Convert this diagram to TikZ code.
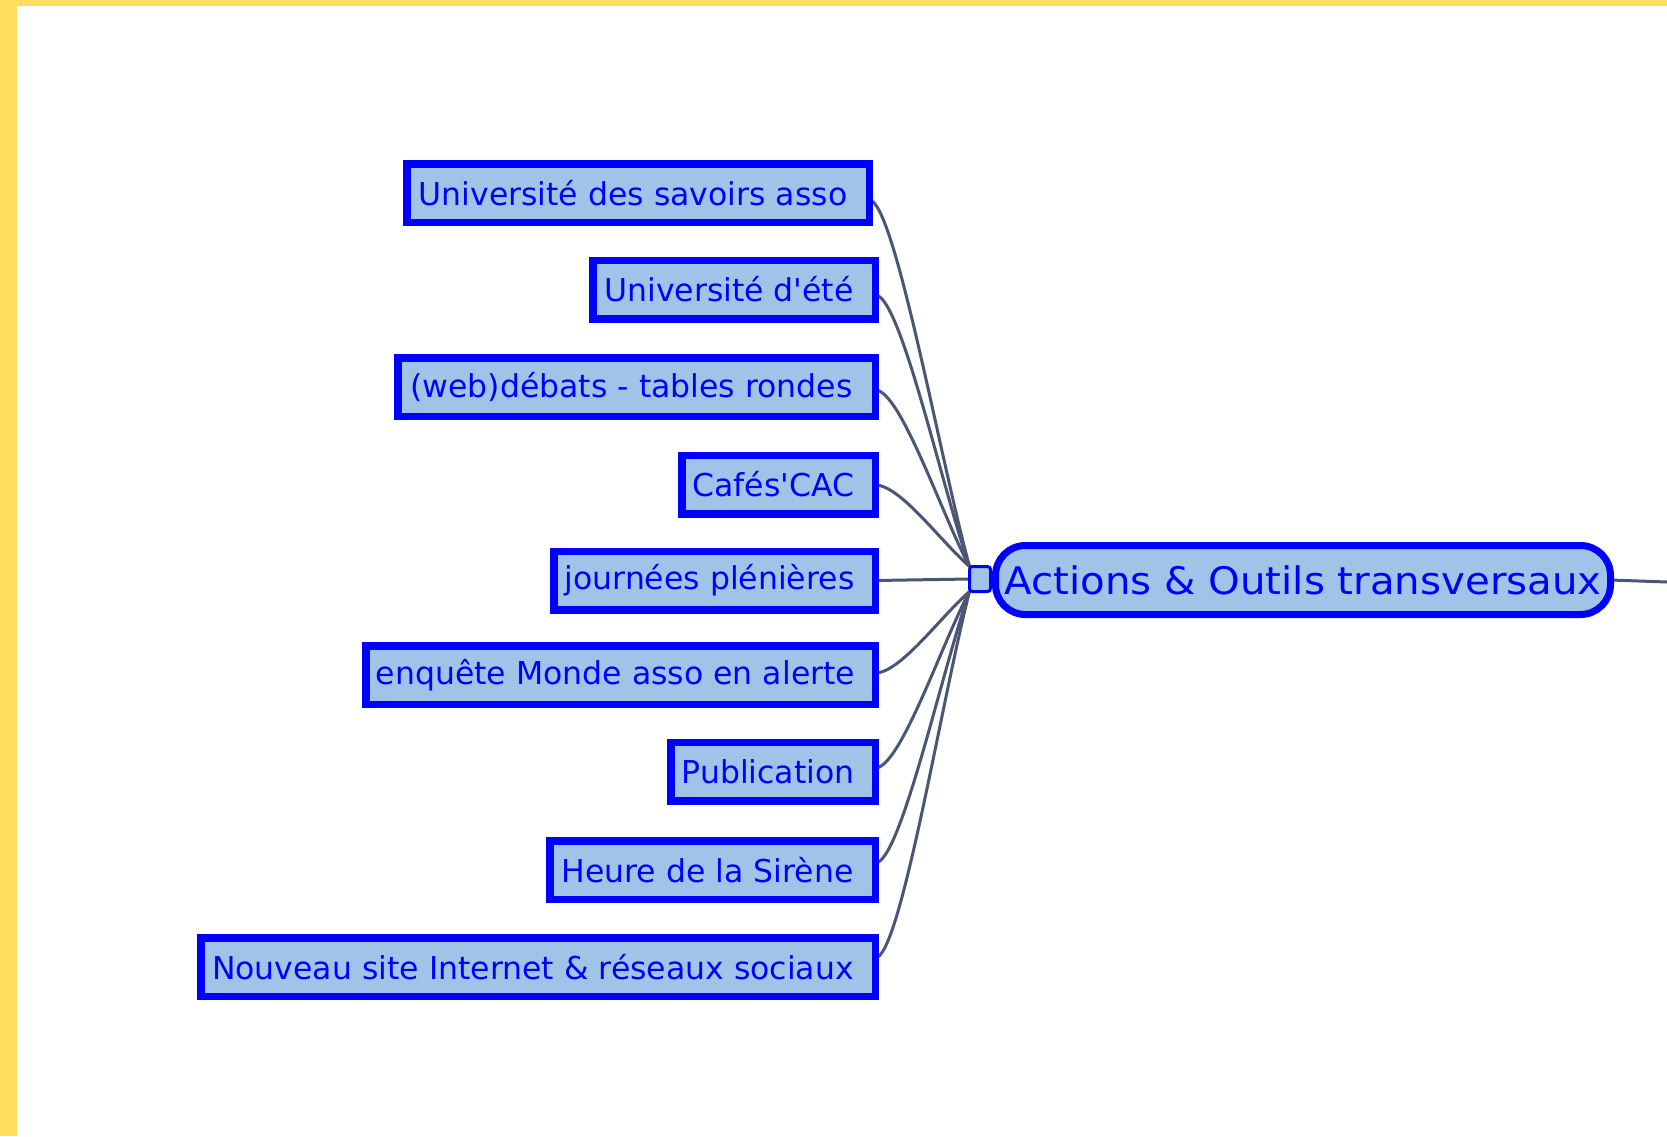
\documentclass[tikz,border=0pt]{standalone}
\usepackage{fontspec}
\setmainfont{DejaVu Sans}
\newfontfamily\centralfont{DejaVu Sans}[FakeStretch=1.06]
\usetikzlibrary{calc}
\definecolor{mmfill}{HTML}{A0C4E8}
\definecolor{mmblue}{HTML}{0000FF}
\definecolor{mmline}{HTML}{4A5673}
\definecolor{mmyellow}{HTML}{FFDF5B}
\pgfdeclarelayer{back}
\pgfdeclarelayer{edges}
\pgfsetlayers{back,edges,main}
\newcommand\lefttext[1]{\hspace*{-10pt}#1}
\begin{document}
\begin{tikzpicture}[x=1pt,y=-1pt,
  leaf/.style={draw=mmblue, fill=mmfill, line width=7.5pt, text=mmblue,
    font=\fontsize{31.5}{36}\selectfont, minimum height=58.5pt,
    inner sep=0pt, outer sep=0pt, anchor=east},
  hubbox/.style={draw=mmblue, fill=mmfill, line width=3pt, minimum width=21pt,
    minimum height=25pt, rounded corners=3pt, inner sep=0pt, outer sep=0pt},
  centralbox/.style={draw=mmblue, fill=mmfill, line width=7pt, text=mmblue,
    font=\centralfont\fontsize{38}{42}\selectfont, minimum width=615pt,
    minimum height=69pt, rounded corners=30pt, inner sep=0pt, outer sep=0pt},
  link/.style={draw=mmline, line width=3pt},
]
\useasboundingbox (0,0) rectangle (1667,1136);
\begin{pgfonlayer}{back}
  \fill[white] (0,0) rectangle (1667,1136);
  \fill[mmyellow] (0,0) rectangle (17,1136);
  \fill[mmyellow] (0,0) rectangle (1667,6);
\end{pgfonlayer}

\node[leaf, minimum width=462.5pt] (b1) at (869.25,193) {\lefttext{Université des savoirs asso}};
\node[leaf, minimum width=282.5pt] (b2) at (875.25,289.5) {\lefttext{Université d\textquotesingle été}};
\node[leaf, minimum width=477.5pt] (b3) at (875.25,387) {\lefttext{(web)débats - tables rondes}};
\node[leaf, minimum width=193.5pt] (b4) at (875.25,484.5) {\lefttext{Cafés\textquotesingle CAC}};
\node[leaf, minimum width=321.5pt] (b5) at (875.25,580.5) {\lefttext{journées plénières}};
\node[leaf, minimum width=509.5pt] (b6) at (875.25,675) {\lefttext{enquête Monde asso en alerte}};
\node[leaf, minimum width=204.5pt] (b7) at (875.25,771.5) {\lefttext{Publication}};
\node[leaf, minimum width=325.5pt] (b8) at (875.25,870) {\lefttext{Heure de la Sirène}};
\node[leaf, minimum width=674.5pt] (b9) at (875.25,967) {\lefttext{Nouveau site Internet \& réseaux sociaux}};

\node[hubbox] (hub) at (980,579) {};
\node[centralbox] (c) at (1303,580) {Actions \& Outils transversaux};
\coordinate (out) at (1667,582);

\coordinate (s1) at ($(b1.east)+(0,7)$);
\coordinate (s2) at ($(b2.east)+(0,5.5)$);
\coordinate (s3) at ($(b3.east)+(0,3)$);
\coordinate (s4) at ($(b4.east)+(0,0.5)$);
\coordinate (s6) at ($(b6.east)+(0,-2)$);
\coordinate (s7) at ($(b7.east)+(0,-3.5)$);
\coordinate (s8) at ($(b8.east)+(0,-7)$);
\coordinate (s9) at ($(b9.east)+(0,-9)$);

\begin{pgfonlayer}{edges}
  \foreach \s in {s1,s2,s3,s4} {
    \draw[link] (\s) .. controls +(25,0) and ($(hub.north west)!0.3!(\s)$) .. (hub.north west);
  }
  \foreach \s in {s6,s7,s8,s9} {
    \draw[link] (\s) .. controls +(25,0) and ($(hub.south west)!0.3!(\s)$) .. (hub.south west);
  }
  \draw[link] (b5.east) -- (hub.west);
  \draw[link] (c.east) -- (out);
\end{pgfonlayer}
\end{tikzpicture}
\end{document}
